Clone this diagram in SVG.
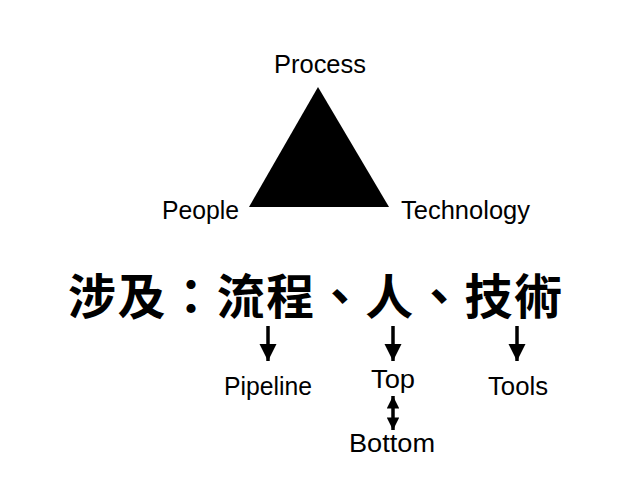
<svg xmlns="http://www.w3.org/2000/svg" width="638" height="479" viewBox="0 0 638 479">
<defs>
<style>
.lbl{font-family:"Liberation Sans","Noto Sans",Arial,sans-serif;font-size:25px;fill:#000}
.cjk{font-family:"Noto Sans CJK TC","Noto Sans CJK SC",sans-serif;font-size:48px;font-weight:bold;fill:#000}
.shaft{stroke:#000;stroke-width:3.5;fill:none}
</style>
<marker id="ah" viewBox="0 0 10 10" refX="10" refY="5" markerWidth="5" markerHeight="5" markerUnits="strokeWidth" orient="auto-start-reverse"><path d="M0,0 L10,5 L0,10 Z" fill="#000"/></marker>
<marker id="ah2" viewBox="0 0 10 10" refX="10" refY="5" markerWidth="3.6" markerHeight="3.6" markerUnits="strokeWidth" orient="auto-start-reverse"><path d="M0,0 L10,5 L0,10 Z" fill="#000"/></marker>
</defs>
<rect width="638" height="479" fill="#fff"/>
<g id="triangle"><polygon points="318,87 249,207 389,207" fill="#000"/></g>
<g id="process"><text class="lbl" x="274" y="73" textLength="92" lengthAdjust="spacingAndGlyphs">Process</text></g>
<g id="people"><text class="lbl" x="162" y="219" textLength="77" lengthAdjust="spacingAndGlyphs">People</text></g>
<g id="technology"><text class="lbl" x="401" y="219" textLength="129" lengthAdjust="spacingAndGlyphs">Technology</text></g>
<g id="title"><text class="cjk" x="68" y="314" textLength="494" lengthAdjust="spacing">涉及：流程、人、技術</text></g>
<g id="pipeline"><text class="lbl" x="224" y="395" textLength="88" lengthAdjust="spacingAndGlyphs">Pipeline</text></g>
<g id="top"><text class="lbl" x="371" y="388" textLength="44" lengthAdjust="spacingAndGlyphs">Top</text></g>
<g id="tools"><text class="lbl" x="488" y="395" textLength="60" lengthAdjust="spacingAndGlyphs">Tools</text></g>
<g id="bottom"><text class="lbl" x="349" y="452" textLength="86" lengthAdjust="spacingAndGlyphs">Bottom</text></g>
<g id="connectors">
<line class="shaft" x1="268" y1="326" x2="268" y2="361" marker-end="url(#ah)"/>
<line class="shaft" x1="393" y1="326" x2="393" y2="361" marker-end="url(#ah)"/>
<line class="shaft" x1="517" y1="326" x2="517" y2="361" marker-end="url(#ah)"/>
<line class="shaft" x1="393" y1="396" x2="393" y2="430" marker-start="url(#ah2)" marker-end="url(#ah2)"/>
</g>
</svg>
